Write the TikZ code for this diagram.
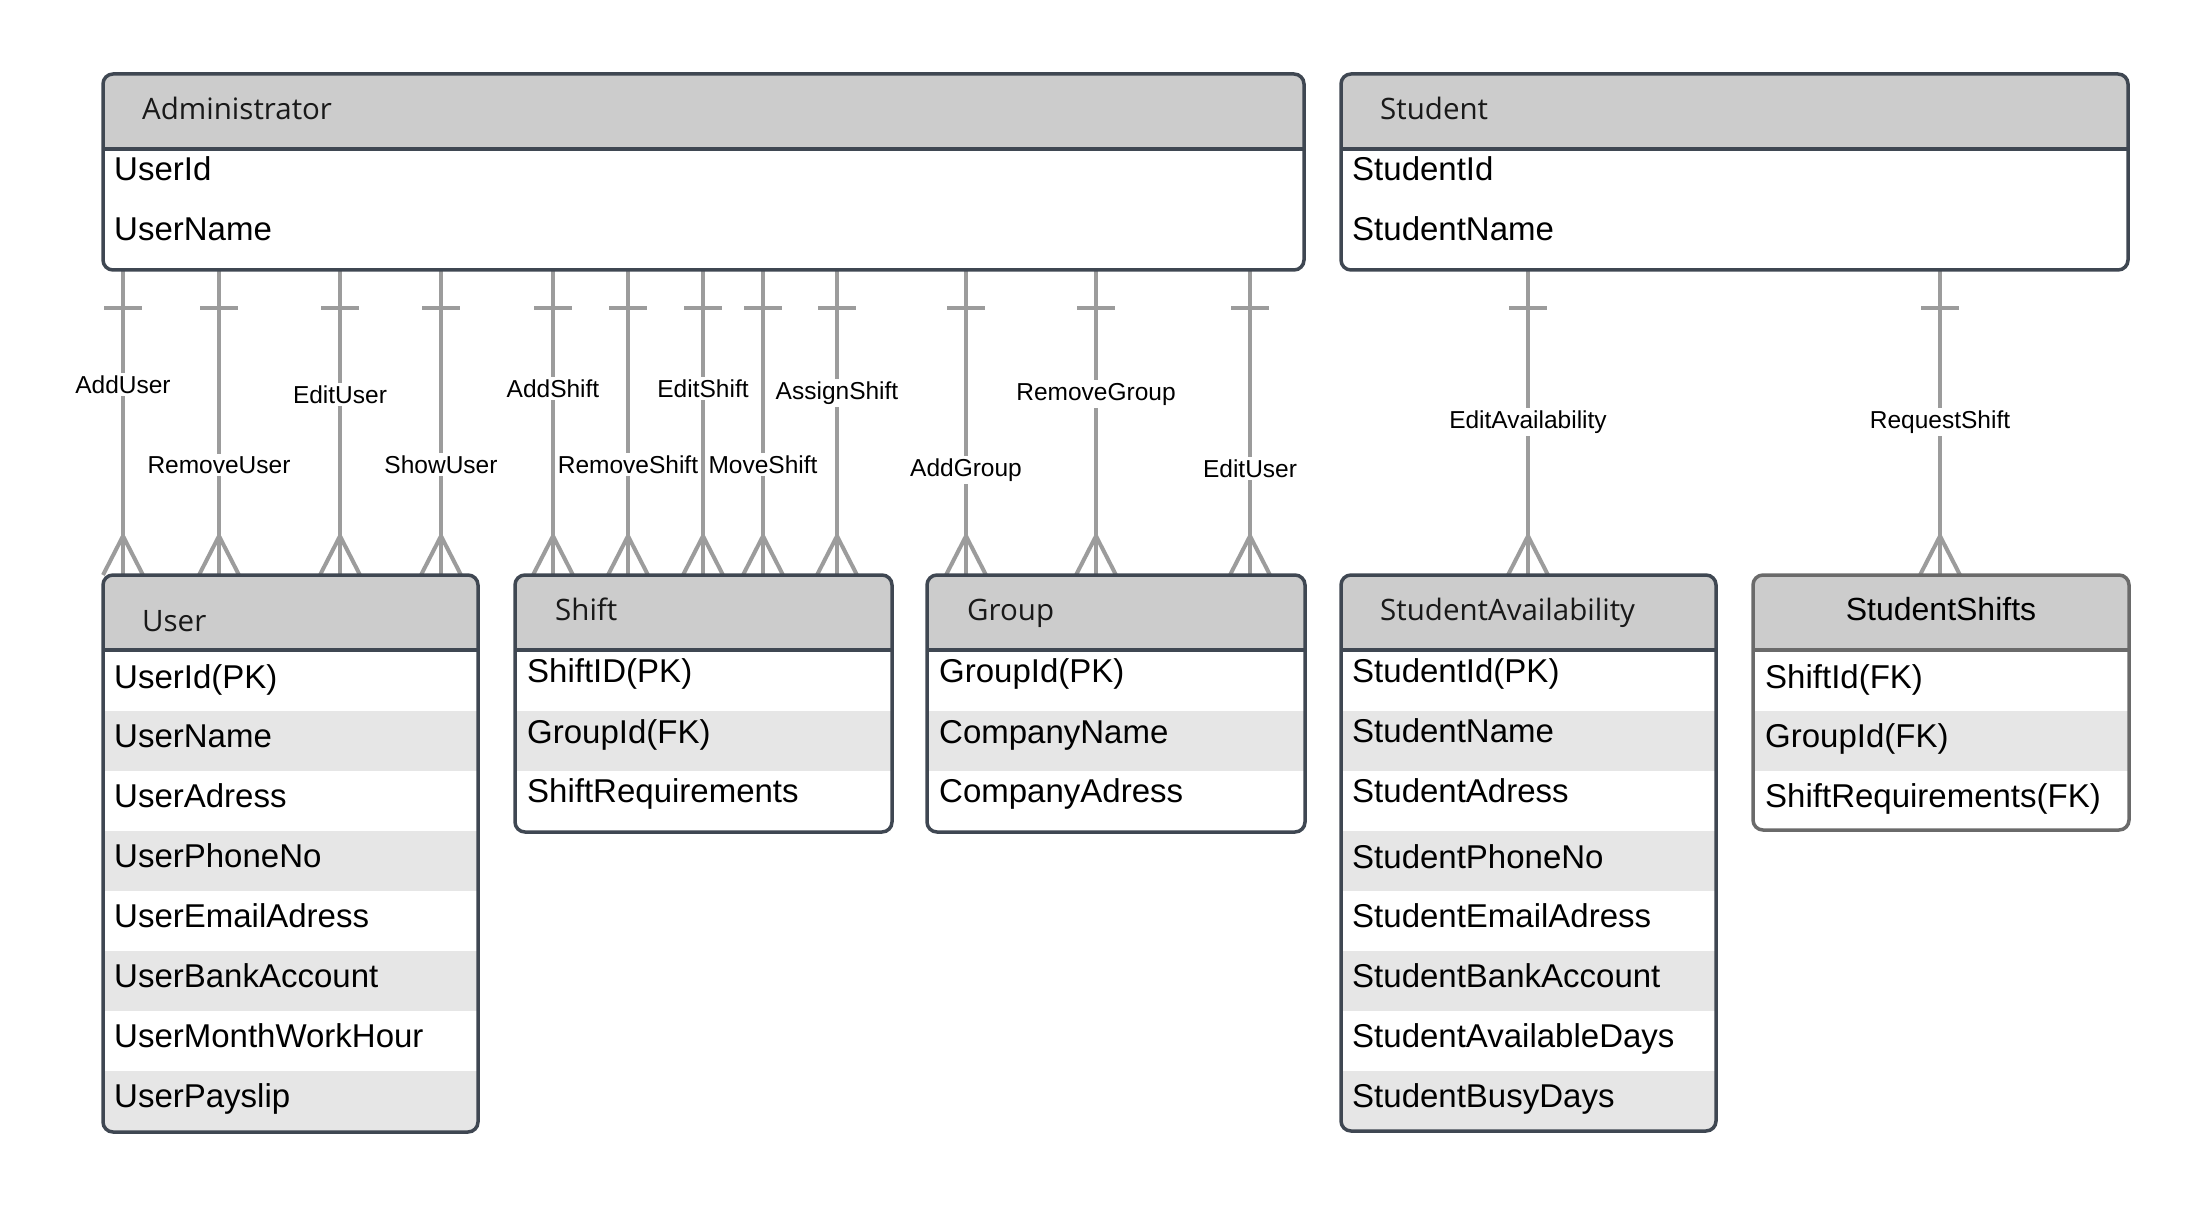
\documentclass[tikz,border=0pt]{standalone}
\usepackage{fontspec}
\setmainfont{Liberation Sans}
\newfontfamily\hdrfont{Open Sans}
\definecolor{bordc}{HTML}{3F4752}
\definecolor{bordl}{HTML}{6A6A6A}
\definecolor{hdrc}{HTML}{CCCCCC}
\definecolor{stripec}{HTML}{E6E6E6}
\definecolor{connc}{HTML}{9C9C9C}
\newcommand\erlink[6]{% #1 name, #2 x, #3 source, #4 target, #5 label, #6 label baseline
  \coordinate (#1x) at (#2,0);
  \draw[conn] (#1x |- #3.south) coordinate (#1s) -- (#1x |- #4.north) coordinate (#1t);
  \draw[conn] (#1s) ++(-19,38) -- ++(38,0);
  \draw[conn] (#1t) ++(-20,0) -- ++(20,-39) -- ++(20,39);
  \node[lbl] (#1l) at (#2,#6) {#5};
}
\begin{document}
\begin{tikzpicture}[x=1pt,y=-1pt,
  ebox/.style={draw=bordc, line width=3.5pt, rounded corners=10pt, inner sep=0pt, outer sep=0pt, anchor=north west},
  hdrtxt/.style={anchor=base west, inner sep=0pt, font=\hdrfont\fontsize{29.5}{34}\selectfont, text=black!90},
  rowtxt/.style={anchor=base west, inner sep=0pt, font=\fontsize{33}{38}\selectfont},
  lbl/.style={anchor=base, fill=white, inner sep=2.5pt, font=\fontsize{24.5}{28}\selectfont},
  conn/.style={draw=connc, line width=4pt},
  sepline/.style={draw=bordc, line width=3.5pt},
  hdrfill/.style={fill=hdrc},
  stripe/.style={fill=stripec},
]
\useasboundingbox[fill=white] (0,0) rectangle (2203,1206);

% ---------- box geometry (nodes) ----------
\node[ebox, draw=none, minimum width=1201pt, minimum height=196pt] (admin) at (103,74) {};
\node[ebox, draw=none, minimum width=787pt, minimum height=196pt] (student) at (1341,74) {};
\node[ebox, draw=none, minimum width=375pt, minimum height=557pt] (user) at (103,575) {};
\node[ebox, draw=none, minimum width=377pt, minimum height=257pt] (shift) at (515,575) {};
\node[ebox, draw=none, minimum width=378pt, minimum height=257pt] (group) at (927,575) {};
\node[ebox, draw=none, minimum width=375pt, minimum height=556pt] (sa) at (1341,575) {};
\node[ebox, draw=none, minimum width=376pt, minimum height=255pt] (ss) at (1753,575) {};

% ---------- connectors ----------
\erlink{c1}{123}{admin}{user}{AddUser}{393}
\erlink{c2}{219}{admin}{user}{RemoveUser}{473}
\erlink{c3}{340}{admin}{user}{EditUser}{403}
\erlink{c4}{441}{admin}{user}{ShowUser}{473}
\erlink{c5}{553}{admin}{shift}{AddShift}{397}
\erlink{c6}{628}{admin}{shift}{RemoveShift}{473}
\erlink{c7}{703}{admin}{shift}{EditShift}{397}
\erlink{c8}{763}{admin}{shift}{MoveShift}{473}
\erlink{c9}{837}{admin}{shift}{AssignShift}{399}
\erlink{c10}{966}{admin}{group}{AddGroup}{476}
\erlink{c11}{1096}{admin}{group}{RemoveGroup}{400}
\erlink{c12}{1250}{admin}{group}{EditUser}{477}
\erlink{c13}{1528}{student}{sa}{EditAvailability}{428}
\erlink{c14}{1940}{student}{ss}{RequestShift}{428}

% ---------- Administrator ----------
\begin{scope}
  \clip[rounded corners=10pt] (103,74) rectangle (1304,270);
  \fill[white] (103,74) rectangle (1304,270);
  \fill[hdrfill] (103,74) rectangle (1304,149);
\end{scope}
\draw[sepline] (103,149) -- (1304,149);
\node[ebox, minimum width=1201pt, minimum height=196pt] (adminb) at (103,74) {};
\node[hdrtxt] (adminh) at (142,120) {Administrator};
\node[rowtxt] (admin1) at (114,181) {UserId};
\node[rowtxt] (admin2) at (114,241) {UserName};

% ---------- Student ----------
\begin{scope}
  \clip[rounded corners=10pt] (1341,74) rectangle (2128,270);
  \fill[white] (1341,74) rectangle (2128,270);
  \fill[hdrfill] (1341,74) rectangle (2128,149);
\end{scope}
\draw[sepline] (1341,149) -- (2128,149);
\node[ebox, minimum width=787pt, minimum height=196pt] (studentb) at (1341,74) {};
\node[hdrtxt] (studenth) at (1380,120) {Student};
\node[rowtxt] (student1) at (1352,181) {StudentId};
\node[rowtxt] (student2) at (1352,241) {StudentName};

% ---------- User ----------
\begin{scope}
  \clip[rounded corners=10pt] (103,575) rectangle (478,1132);
  \fill[white] (103,575) rectangle (478,1132);
  \fill[hdrfill] (103,575) rectangle (478,650);
  \fill[stripe] (103,711) rectangle (478,771);
  \fill[stripe] (103,831) rectangle (478,891);
  \fill[stripe] (103,951) rectangle (478,1011);
  \fill[stripe] (103,1071) rectangle (478,1132);
\end{scope}
\draw[sepline] (103,650) -- (478,650);
\node[ebox, minimum width=375pt, minimum height=557pt] (userb) at (103,575) {};
\node[hdrtxt] (userh) at (142,631) {User};
\node[rowtxt] (user1) at (114,688) {UserId(PK)};
\node[rowtxt] (user2) at (114,747) {UserName};
\node[rowtxt] (user3) at (114,807) {UserAdress};
\node[rowtxt] (user4) at (114,867) {UserPhoneNo};
\node[rowtxt] (user5) at (114,927) {UserEmailAdress};
\node[rowtxt] (user6) at (114,987) {UserBankAccount};
\node[rowtxt] (user7) at (114,1047) {UserMonthWorkHour};
\node[rowtxt] (user8) at (114,1107) {UserPayslip};

% ---------- Shift ----------
\begin{scope}
  \clip[rounded corners=10pt] (515,575) rectangle (892,832);
  \fill[white] (515,575) rectangle (892,832);
  \fill[hdrfill] (515,575) rectangle (892,650);
  \fill[stripe] (515,711) rectangle (892,771);
\end{scope}
\draw[sepline] (515,650) -- (892,650);
\node[ebox, minimum width=377pt, minimum height=257pt] (shiftb) at (515,575) {};
\node[hdrtxt] (shifth) at (555,620) {Shift};
\node[rowtxt] (shift1) at (527,682) {ShiftID(PK)};
\node[rowtxt] (shift2) at (527,743) {GroupId(FK)};
\node[rowtxt] (shift3) at (527,802) {ShiftRequirements};

% ---------- Group ----------
\begin{scope}
  \clip[rounded corners=10pt] (927,575) rectangle (1305,832);
  \fill[white] (927,575) rectangle (1305,832);
  \fill[hdrfill] (927,575) rectangle (1305,650);
  \fill[stripe] (927,711) rectangle (1305,771);
\end{scope}
\draw[sepline] (927,650) -- (1305,650);
\node[ebox, minimum width=378pt, minimum height=257pt] (groupb) at (927,575) {};
\node[hdrtxt] (grouph) at (967,620) {Group};
\node[rowtxt] (group1) at (939,682) {GroupId(PK)};
\node[rowtxt] (group2) at (939,743) {CompanyName};
\node[rowtxt] (group3) at (939,802) {CompanyAdress};

% ---------- StudentAvailability ----------
\begin{scope}
  \clip[rounded corners=10pt] (1341,575) rectangle (1716,1131);
  \fill[white] (1341,575) rectangle (1716,1131);
  \fill[hdrfill] (1341,575) rectangle (1716,650);
  \fill[stripe] (1341,711) rectangle (1716,771);
  \fill[stripe] (1341,831) rectangle (1716,891);
  \fill[stripe] (1341,951) rectangle (1716,1011);
  \fill[stripe] (1341,1071) rectangle (1716,1131);
\end{scope}
\draw[sepline] (1341,650) -- (1716,650);
\node[ebox, minimum width=375pt, minimum height=556pt] (sab) at (1341,575) {};
\node[hdrtxt] (sah) at (1380,620) {StudentAvailability};
\node[rowtxt] (sa1) at (1352,682) {StudentId(PK)};
\node[rowtxt] (sa2) at (1352,742) {StudentName};
\node[rowtxt] (sa3) at (1352,802) {StudentAdress};
\node[rowtxt] (sa4) at (1352,868) {StudentPhoneNo};
\node[rowtxt] (sa5) at (1352,927) {StudentEmailAdress};
\node[rowtxt] (sa6) at (1352,987) {StudentBankAccount};
\node[rowtxt] (sa7) at (1352,1047) {StudentAvailableDays};
\node[rowtxt] (sa8) at (1352,1107) {StudentBusyDays};

% ---------- StudentShifts ----------
\begin{scope}
  \clip[rounded corners=10pt] (1753,575) rectangle (2129,830);
  \fill[white] (1753,575) rectangle (2129,830);
  \fill[hdrfill] (1753,575) rectangle (2129,650);
  \fill[stripe] (1753,711) rectangle (2129,771);
\end{scope}
\draw[sepline, draw=bordl] (1753,650) -- (2129,650);
\node[ebox, draw=bordl, minimum width=376pt, minimum height=255pt] (ssb) at (1753,575) {};
\node[rowtxt, anchor=base, font=\fontsize{32}{38}\selectfont] (ssh) at (1941,620) {StudentShifts};
\node[rowtxt] (ss1) at (1765,688) {ShiftId(FK)};
\node[rowtxt] (ss2) at (1765,747) {GroupId(FK)};
\node[rowtxt] (ss3) at (1765,807) {ShiftRequirements(FK)};
\end{tikzpicture}
\end{document}
